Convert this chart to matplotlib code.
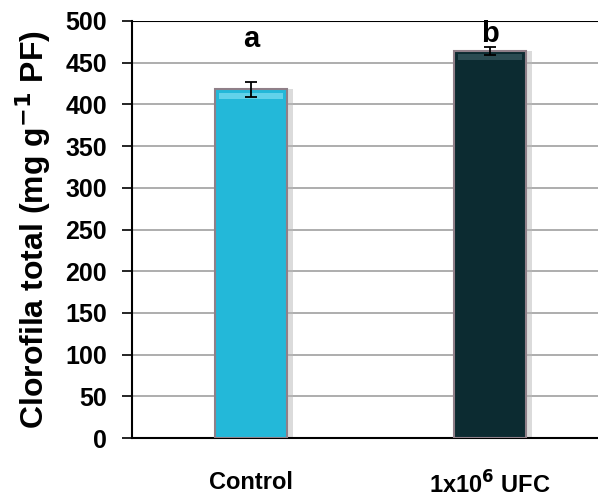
import matplotlib.pyplot as plt
import numpy as np

plt.rcParams['font.family'] = ['Liberation Sans', 'DejaVu Sans']
plt.rcParams['mathtext.default'] = 'bf'

categories = ['Control', '1x10$^{6}$ UFC']
values = [418, 464]
errors = [9, 5]
letters = ['a', 'b']
letter_y = [469, 475]
colors = ['#23B8D9', '#0C2B31']
bevel_colors = ['#62D2EA', '#2B4C52']

fig = plt.figure(figsize=(5.98, 5.0), dpi=100)
ax = fig.add_axes([132/598, 62/500, 466/598, 417/500])

x = np.arange(len(categories))
w = 0.30
# soft shadow behind bars
ax.bar(x + 0.025, values, w, color='#b8b8b8', alpha=0.5, zorder=2)
ax.bar(x, values, w, color=colors, edgecolor='#8f7f88', linewidth=1.5, zorder=3)
# light bevel at the top of each bar
vals = np.array(values)
ax.bar(x, 7, w * 0.88, bottom=vals - 11, color=bevel_colors, linewidth=0, zorder=3.5)
ax.errorbar(x, values, yerr=errors, fmt='none', ecolor='black',
            elinewidth=1.3, capsize=4, capthick=1.3, zorder=4)
for xi, t, ty in zip(x, letters, letter_y):
    ax.text(xi, ty, t, ha='center', va='baseline', fontsize=21,
            fontweight='bold', zorder=5)

ax.set_xlim(-0.498, 1.452)
ax.set_ylim(0, 500)
ax.set_yticks(np.arange(0, 501, 50))
ax.yaxis.grid(True, color='#a0a0a0', linewidth=1.2, zorder=0)
ax.set_axisbelow(True)
ax.axhline(500, color='black', linewidth=1.5, zorder=1)
ax.set_xticks(x)
ax.set_xticklabels(categories, fontsize=17, fontweight='bold')
ax.tick_params(axis='x', length=0, pad=24)
ax.tick_params(axis='y', labelsize=18, length=7, width=1.2, pad=11)
for lab in ax.get_yticklabels():
    lab.set_fontweight('bold')
for s in ['top', 'right']:
    ax.spines[s].set_visible(False)
ax.spines['left'].set_linewidth(1.5)
ax.spines['bottom'].set_linewidth(1.5)
ax.set_ylabel('Clorofila total (mg g$^{-1}$ PF)', fontsize=23,
              fontweight='bold', labelpad=9)

fig.savefig('out.png', dpi=100)
